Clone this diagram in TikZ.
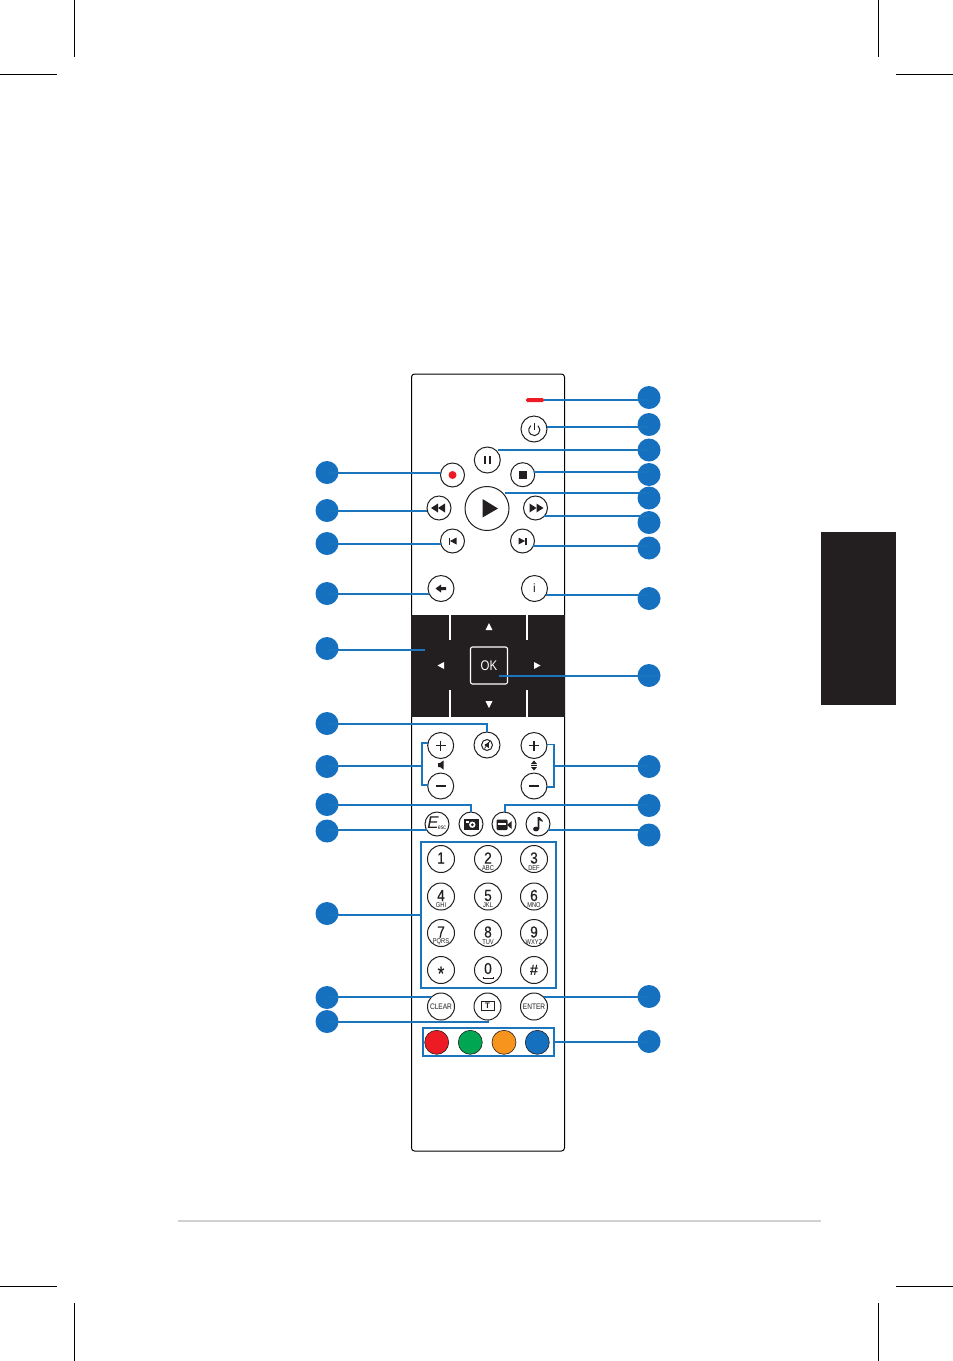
\documentclass[tikz,border=0pt]{standalone}
\usepackage{fontspec}
\setmainfont{Liberation Sans}
\newfontfamily\narrowf[FakeStretch=0.82]{Liberation Sans}
\newfontfamily\digitf[FakeStretch=0.85,FakeBold=0.35]{Liberation Sans}
\definecolor{conblue}{HTML}{1B75BC}
\definecolor{dotblue}{HTML}{1570BF}
\definecolor{inkblack}{HTML}{231F20}
\definecolor{keyred}{HTML}{ED1C24}
\definecolor{keygreen}{HTML}{00A651}
\definecolor{keyorange}{HTML}{F7941D}
\tikzset{
  dot/.style={circle,fill=dotblue,minimum size=23pt,inner sep=0pt,outer sep=0pt},
  conn/.style={draw=conblue,line width=1.7pt},
  frameblue/.style={draw=conblue,line width=1.7pt,inner sep=0pt,outer sep=0pt},
  btn/.style={circle,draw=inkblack,fill=white,line width=1pt,inner sep=0pt,outer sep=0pt},
  smallb/.style={btn,minimum size=24pt},
  midb/.style={btn,minimum size=26pt},
  keyb/.style={btn,minimum size=27pt},
  colorb/.style={circle,draw=inkblack,line width=0.6pt,minimum size=24pt,inner sep=0pt,outer sep=0pt},
  crop/.style={draw=black,line width=0.6pt},
  bigt/.style={inner sep=0pt,text=inkblack,font=\digitf\fontsize{16}{16}\selectfont},
  subt/.style={inner sep=0pt,text=inkblack,font=\narrowf\fontsize{7}{7}\selectfont},
  icon/.style={fill=inkblack,draw=none},
  iconl/.style={draw=inkblack,line width=1.4pt},
  whitet/.style={fill=white,draw=none}
}
\newcommand{\keypad}[5]{%
  \node[keyb] (#1) at (#2,#3) {};
  \node[bigt] (#1d) at (#2,#3-1) {#4};
  \node[subt] (#1s) at (#2,#3+8.7) {#5};
}
\begin{document}
\begin{tikzpicture}[x=1pt,y=-1pt]
\useasboundingbox (0,0) rectangle (953,1361);
\fill[white] (0,0) rectangle (953,1361);
% crop marks
\draw[crop] (74.5,0) -- (74.5,57);
\draw[crop] (0,74.5) -- (57,74.5);
\draw[crop] (878.5,0) -- (878.5,57);
\draw[crop] (896,74.5) -- (953,74.5);
\draw[crop] (74.5,1303) -- (74.5,1361);
\draw[crop] (0,1286.5) -- (57,1286.5);
\draw[crop] (878.5,1303) -- (878.5,1361);
\draw[crop] (896,1286.5) -- (953,1286.5);
% side tab and footer rule
\fill[inkblack] (821,532) rectangle (896,705);
\draw[draw=black!18,line width=1.8pt] (178,1221) -- (821,1221);
% remote body
\draw[black,line width=1pt,rounded corners=3pt] (411.5,374) rectangle (564.5,1151);
\fill[inkblack] (411,615) rectangle (565,717);
\draw[white,line width=2pt] (449.5,615) -- (449.5,640);
\draw[white,line width=2pt] (526.5,615) -- (526.5,640);
\draw[white,line width=2pt] (449.5,690) -- (449.5,717);
\draw[white,line width=2pt] (526.5,690) -- (526.5,717);
\node[draw=white,line width=1.1pt,rounded corners=2pt,minimum width=37pt,minimum height=37pt,inner sep=0pt,outer sep=0pt,text=white,font=\narrowf\fontsize{14}{14}\selectfont] (ok) at (489,665.5) {OK};
\fill[whitet] (489,623) -- (485.5,630) -- (492.5,630) -- cycle;
\fill[whitet] (489,708) -- (485.5,701) -- (492.5,701) -- cycle;
\fill[whitet] (437.5,665.5) -- (444,662) -- (444,669) -- cycle;
\fill[whitet] (540.5,665.5) -- (534,662) -- (534,669) -- cycle;
\node[minimum size=0pt,inner sep=0pt] (panelpt) at (425,650) {};
% LED
\node[fill=keyred,rounded corners=1.5pt,minimum width=18pt,minimum height=4pt,inner sep=0pt,outer sep=0pt] (led) at (535,400) {};
% buttons
\node[midb] (power) at (534,429) {};
\node[midb] (pause) at (487.3,460) {};
\node[smallb] (record) at (452.5,475) {};
\node[smallb] (stop) at (522.7,474.7) {};
\node[btn,minimum size=44pt] (play) at (487,508.5) {};
\node[smallb] (rew) at (439,508) {};
\node[smallb] (ffw) at (535.5,508) {};
\node[smallb] (prev) at (452.5,541) {};
\node[smallb] (next) at (522.5,541) {};
\node[midb] (back) at (441,588.5) {};
\node[midb] (info) at (534.5,588.5) {};
\node[midb] (mute) at (487,745) {};
\node[midb] (volp) at (440.7,745.5) {};
\node[midb] (volm) at (440.7,786) {};
\node[midb] (chp) at (534,745.5) {};
\node[midb] (chm) at (534,786) {};
\node[smallb] (esc) at (437,824) {};
\node[smallb] (photo) at (471,824) {};
\node[smallb] (video) at (504,824) {};
\node[smallb] (music) at (538,824) {};
% keypad
\node[frameblue,minimum width=135pt,minimum height=145.5pt] (keys) at (488.3,915) {};
\keypad{ka}{441}{859}{1}{}
\keypad{kb}{488}{859}{2}{ABC}
\keypad{kc}{534}{859}{3}{DEF}
\keypad{kd}{441}{896.5}{4}{GHI}
\keypad{ke}{488}{896.5}{5}{JKL}
\keypad{kf}{534}{896.5}{6}{MNO}
\keypad{kg}{441}{933}{7}{PQRS}
\keypad{kh}{488}{933}{8}{TUV}
\keypad{ki}{534}{933}{9}{WXYZ}
\node[keyb] (kstar) at (441,970) {};
\node[bigt,font=\digitf\fontsize{20}{20}\selectfont] (kstart) at (441,973.5) {*};
\node[keyb] (kzero) at (488,970) {};
\node[bigt] (kzerot) at (488,968.5) {0};
\draw[inkblack,line width=0.7pt] (483,977) -- (483,978.5) -- (493,978.5) -- (493,977);
\node[keyb] (khash) at (534,970) {};
\node[bigt,font=\fontsize{15}{15}\selectfont\bfseries] (khasht) at (534,970) {\#};
\node[keyb,font=\narrowf\fontsize{8}{8}\selectfont,text=inkblack] (clear) at (441,1006.5) {CLEAR};
\node[keyb] (ttx) at (487.5,1006.5) {};
\node[keyb,font=\narrowf\fontsize{8}{8}\selectfont,text=inkblack] (enter) at (534,1006.5) {ENTER};
\node[draw=inkblack,line width=0.9pt,minimum width=13pt,minimum height=9pt,inner sep=0pt,text=inkblack,font=\fontsize{8}{8}\selectfont\bfseries] (ttxt) at (487.5,1006) {T};
% colour keys
\node[frameblue,minimum width=131pt,minimum height=28pt] (cols) at (488.8,1042) {};
\node[colorb,fill=keyred] (cred) at (436.7,1042.3) {};
\node[colorb,fill=keygreen] (cgreen) at (470.3,1042.3) {};
\node[colorb,fill=keyorange] (corange) at (504,1042.3) {};
\node[colorb,fill=dotblue] (cblue) at (537.3,1042.3) {};
% icons
\draw[iconl,line width=1pt] (537.9,425.7) arc[start angle=-50,end angle=230,radius=5.6];
\draw[iconl,line width=1pt] (534.3,423) -- (534.3,430);
\fill[icon] (483.5,456) rectangle (486,464);
\fill[icon] (488.5,456) rectangle (491,464);
\fill[keyred] (452.5,475) circle (4);
\fill[icon] (519,471) rectangle (526.5,478.5);
\fill[icon] (482.5,499) -- (482.5,517.5) -- (498,508.5) -- cycle;
\fill[icon] (431,508) -- (438,503.5) -- (438,512.5) -- cycle;
\fill[icon] (438,508) -- (445,503.5) -- (445,512.5) -- cycle;
\fill[icon] (543.5,508) -- (536.5,503.5) -- (536.5,512.5) -- cycle;
\fill[icon] (536.5,508) -- (529.5,503.5) -- (529.5,512.5) -- cycle;
\fill[icon] (448.5,537.5) rectangle (450,544.5);
\fill[icon] (450,541) -- (456.5,537.5) -- (456.5,544.5) -- cycle;
\fill[icon] (526.5,537.5) rectangle (525,544.5);
\fill[icon] (525,541) -- (518.5,537.5) -- (518.5,544.5) -- cycle;
\fill[icon] (435.5,588.5) -- (441,584.5) -- (441,587) -- (446,587) -- (446,590) -- (441,590) -- (441,592.5) -- cycle;
\node[inner sep=0pt,text=inkblack,font=\fontsize{12}{12}\selectfont] (infot) at (534.5,588.5) {i};
\draw[iconl] (435.5,745.5) -- (446,745.5);
\draw[iconl] (440.7,740.5) -- (440.7,750.5);
\draw[iconl] (435.5,786) -- (446,786);
\draw[iconl] (529,745.5) -- (539,745.5);
\draw[iconl] (534,740.5) -- (534,750.5);
\draw[iconl] (529,786) -- (539,786);
\fill[icon] (438,763) -- (440,763) -- (443.5,760.5) -- (443.5,769.5) -- (440,767) -- (438,767) -- cycle;
\fill[icon] (534,760.5) -- (531,764) -- (537,764) -- cycle;
\fill[icon] (534,770.5) -- (531,767) -- (537,767) -- cycle;
\draw[inkblack,line width=0.6pt] (531,765.5) -- (537,765.5);
\draw[inkblack,line width=1pt] (487,745) circle (5.5);
\fill[icon] (484.8,744) -- (486,744) -- (488.8,742) -- (488.8,748) -- (486,746) -- (484.8,746) -- cycle;
\draw[inkblack,line width=0.7pt] (484.5,748.5) -- (490,741);
\node[inner sep=0pt,text=inkblack,font=\fontsize{17}{17}\selectfont\itshape] (esce) at (433,823) {E};
\node[inner sep=0pt,text=inkblack,font=\narrowf\fontsize{6.5}{6.5}\selectfont] (escs) at (442,827.5) {esc};
\fill[icon] (464,819) rectangle (479.3,829.5);
\fill[white] (472.3,824.7) circle (3.2);
\fill[icon] (472.3,824.7) circle (1.5);
\fill[white] (465.5,821) rectangle (468.5,823);
\fill[icon,rounded corners=1pt] (496.7,819.5) rectangle (507.5,830);
\fill[icon] (507,825) -- (511.7,821) -- (511.7,829) -- cycle;
\fill[white] (498.4,823.4) rectangle (505.5,825.2);
\fill[icon] (536,829) circle[x radius=3,y radius=2.4];
\fill[icon] (537.5,829) -- (537.5,817) -- (539.3,817) -- (542.7,820.5) -- (542.7,822) -- (539.3,820) -- (539.3,829) -- cycle;
% blue markers
\foreach \n/\y in {ra/397.5,rb/424.5,rc/450,rd/474.5,re/498,rf/522.5,rg/548,rh/598.5,ri/675.5,rj/766.5,rk/805.5,rl/835,rm/996.5,rn/1041.5}
  \node[dot] (\n) at (649,\y) {};
\foreach \n/\y in {la/472.5,lb/510.5,lc/543.5,ld/593.5,le/648.5,lf/723.5,lg/766.5,lh/804.5,li/831,lj/913.5,lk/997.5,ll/1021.5}
  \node[dot] (\n) at (327,\y) {};
% connectors, right side
\draw[conn] (led.east) -- (led.east -| ra);
\draw[conn] (power.10) -- (power.10 -| rb);
\draw[conn] ([xshift=2pt]pause.50) -- (pause.50 -| rc);
\draw[conn] (stop.13) -- (stop.13 -| rd);
\draw[conn] ([xshift=2pt]play.45) -- (play.45 -| re);
\draw[conn] (ffw.-42) -- (ffw.-42 -| rf);
\draw[conn] (next.-24) -- (next.-24 -| rg);
\draw[conn] (info.-30) -- (info.-30 -| rh);
\draw[conn] ([shift={(10pt,-10.5pt)}]ok.center) -- ([shift={(10pt,-10.5pt)}]ok.center -| ri);
\coordinate (brr) at (554.3,766);
\draw[conn] (chp.5) -| (brr) |- (chm.-5);
\draw[conn] (brr) -- (brr -| rj);
\draw[conn] ([xshift=1pt]video.north) |- ([yshift=0.5pt]rk.center);
\draw[conn] (music.-30) -- (music.-30 -| rl);
\draw[conn] (enter.45) -- (enter.45 -| rm);
\draw[conn] (cols.east) -- (cols.east -| rn);
% connectors, left side
\draw[conn] (record.170) -- (record.170 -| la);
\draw[conn] (rew.195) -- (rew.195 -| lb);
\draw[conn] (prev.195) -- (prev.195 -| lc);
\draw[conn] (back.205) -- (back.205 -| ld);
\draw[conn] (panelpt) -- (panelpt -| le);
\draw[conn] (mute.north) |- ([yshift=-0.5pt]lf.center);
\coordinate (brl) at (421.8,766);
\draw[conn] (volp.170) -| (brl) |- (volm.175);
\draw[conn] (brl) -- (brl -| lg);
\draw[conn] (photo.north) |- ([yshift=-0.5pt]lh.center);
\draw[conn] (esc.210) -- (esc.210 -| li);
\draw[conn] (keys.west) -- (keys.west -| lj);
\draw[conn] (clear.135) -- (clear.135 -| lk);
\draw[conn] ([xshift=1pt]ttx.south) |- ([yshift=-0.5pt]ll.center);
\end{tikzpicture}
\end{document}
